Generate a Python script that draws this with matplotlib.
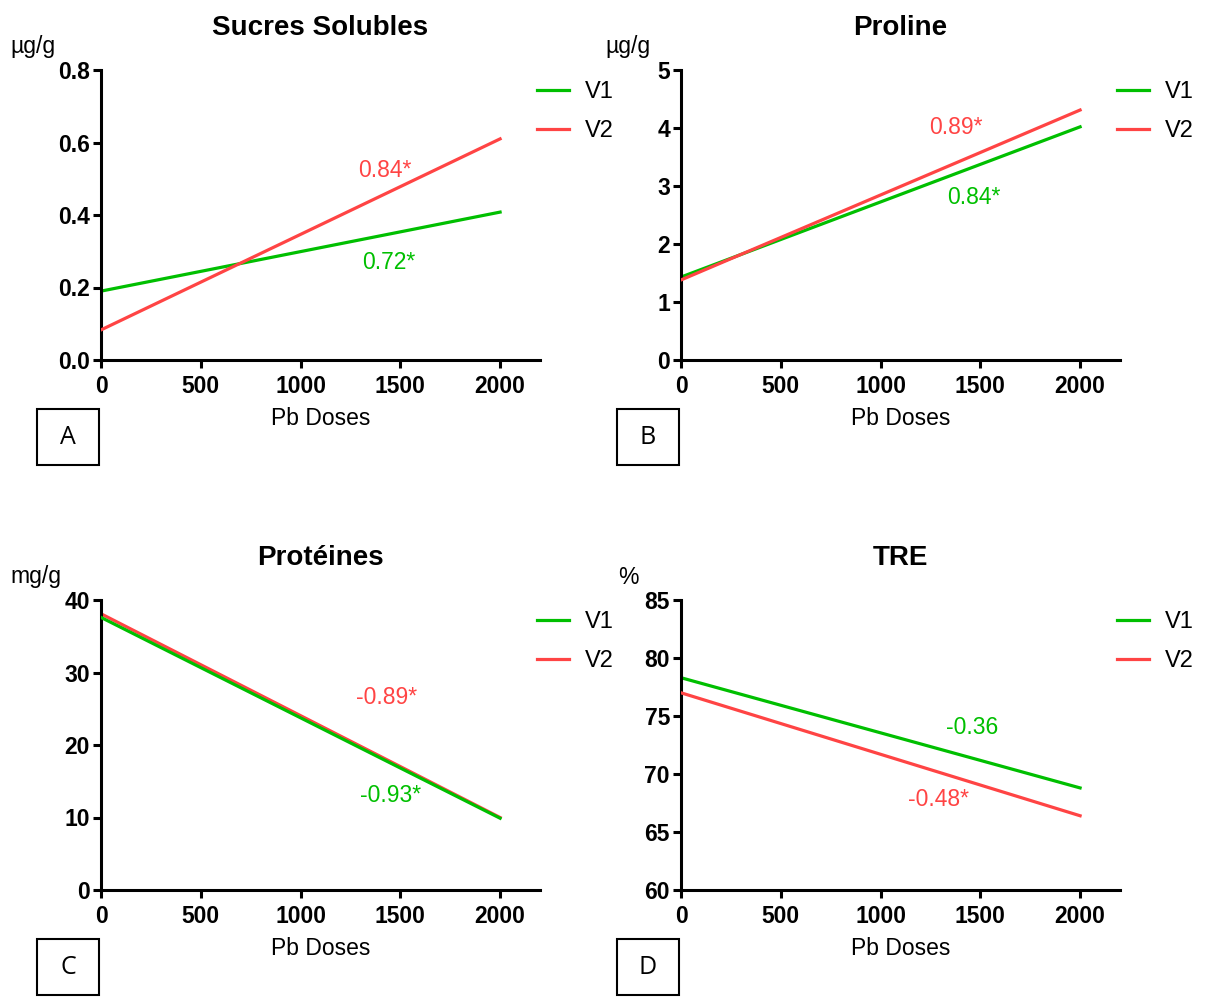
import numpy as np
import matplotlib
matplotlib.use('Agg')
import matplotlib.pyplot as plt
from matplotlib.patches import Rectangle

plt.rcParams['font.family'] = ['Liberation Sans', 'DejaVu Sans']

# Pb doses (x) at the ends of the fitted regression lines
doses = [0, 2000]

# fitted line end values per variety, one pair per panel
sucres_v1 = [0.19, 0.408]
sucres_v2 = [0.083, 0.61]
proline_v1 = [1.43, 4.02]
proline_v2 = [1.38, 4.31]
proteines_v1 = [37.6, 9.9]
proteines_v2 = [38.1, 10.0]
tre_v1 = [78.3, 68.8]
tre_v2 = [77.0, 66.4]

# correlation coefficients written next to the lines
r_sucres = ['0.72*', '0.84*']
r_proline = ['0.84*', '0.89*']
r_proteines = ['-0.93*', '-0.89*']
r_tre = ['-0.36', '-0.48*']

titles = ['Sucres Solubles', 'Proline', 'Protéines', 'TRE']
units = ['µg/g', 'µg/g', 'mg/g', '%']
letters = ['A', 'B', 'C', 'D']

GREEN = '#00bf00'
RED = '#ff4444'

W, H = 1211, 998
fig = plt.figure(figsize=(W / 100, H / 100), dpi=100)


def px_axes(left, top, right, bottom):
    return fig.add_axes([left / W, 1 - bottom / H, (right - left) / W, (bottom - top) / H])


panels = [
    dict(box=(101, 70, 540, 360), v1=sucres_v1, v2=sucres_v2, r=r_sucres,
         ylim=(0, 0.8), yticks=[0, 0.2, 0.4, 0.6, 0.8], fmt='{:.1f}', unit_dx=-91,
         pos_v1=(1442, 0.27), pos_v2=(1422, 0.524)),
    dict(box=(681, 70, 1120, 360), v1=proline_v1, v2=proline_v2, r=r_proline,
         ylim=(0, 5), yticks=[0, 1, 2, 3, 4, 5], fmt='{:.0f}', unit_dx=-76,
         pos_v1=(1467, 2.81), pos_v2=(1377, 4.0)),
    dict(box=(101, 600, 540, 890), v1=proteines_v1, v2=proteines_v2, r=r_proteines,
         ylim=(0, 40), yticks=[0, 10, 20, 30, 40], fmt='{:.0f}', unit_dx=-91,
         pos_v1=(1452, 13.0), pos_v2=(1432, 26.5)),
    dict(box=(681, 600, 1120, 890), v1=tre_v1, v2=tre_v2, r=r_tre,
         ylim=(60, 85), yticks=[60, 65, 70, 75, 80, 85], fmt='{:.0f}', unit_dx=-63,
         pos_v1=(1457, 73.97), pos_v2=(1291, 67.76)),
]

for i, p in enumerate(panels):
    left, top, right, bottom = p['box']
    ax = px_axes(left, top, right, bottom)

    # in the protein panel the red line sits under the green one
    z1, z2 = (3, 2) if i == 2 else (2, 3)
    l1, = ax.plot(doses, p['v1'], color=GREEN, lw=2.3, label='V1', zorder=z1)
    l2, = ax.plot(doses, p['v2'], color=RED, lw=2.3, label='V2', zorder=z2)

    ax.text(*p['pos_v1'], p['r'][0], color=GREEN, fontsize=16.5, ha='center', va='center')
    ax.text(*p['pos_v2'], p['r'][1], color=RED, fontsize=16.5, ha='center', va='center')

    ax.set_xlim(0, 2200)
    ax.set_ylim(*p['ylim'])
    ax.set_xticks([0, 500, 1000, 1500, 2000])
    ax.set_yticks(p['yticks'])
    ax.set_yticklabels([p['fmt'].format(v) for v in p['yticks']])
    for lab in ax.get_xticklabels() + ax.get_yticklabels():
        lab.set_fontweight('bold')
        lab.set_fontsize(16.5)

    for s in ['top', 'right']:
        ax.spines[s].set_visible(False)
    for s in ['left', 'bottom']:
        ax.spines[s].set_linewidth(2.2)
    ax.tick_params(width=2.2, length=6, direction='out')
    ax.tick_params(axis='x', pad=5)
    ax.tick_params(axis='y', pad=2)

    ax.set_xlabel('Pb Doses', fontsize=16.5, labelpad=6)
    ax.set_title(titles[i], fontsize=20, fontweight='bold', pad=25)

    fig.text((left + p['unit_dx']) / W, 1 - (top - 23) / H, units[i], fontsize=16.5,
             ha='left', va='center')

    ax.legend(handles=[l1, l2], loc='upper left', bbox_to_anchor=(0.993, 0.961),
              frameon=False, fontsize=17, handlelength=1.35, handletextpad=0.7,
              labelspacing=0.7, borderpad=0, borderaxespad=0)

    # letter box under the axis
    bx0, by0 = left - 64, bottom + 49
    fig.patches.append(Rectangle((bx0 / W, 1 - (by0 + 56) / H), 62 / W, 56 / H,
                                 transform=fig.transFigure, fill=False,
                                 edgecolor='black', lw=1.5))
    fig.text((bx0 + 31) / W, 1 - (by0 + 29) / H, letters[i], fontsize=18,
             ha='center', va='center', family=['Open Sans', 'Liberation Sans', 'DejaVu Sans'])

fig.savefig('out.png', dpi=100)
